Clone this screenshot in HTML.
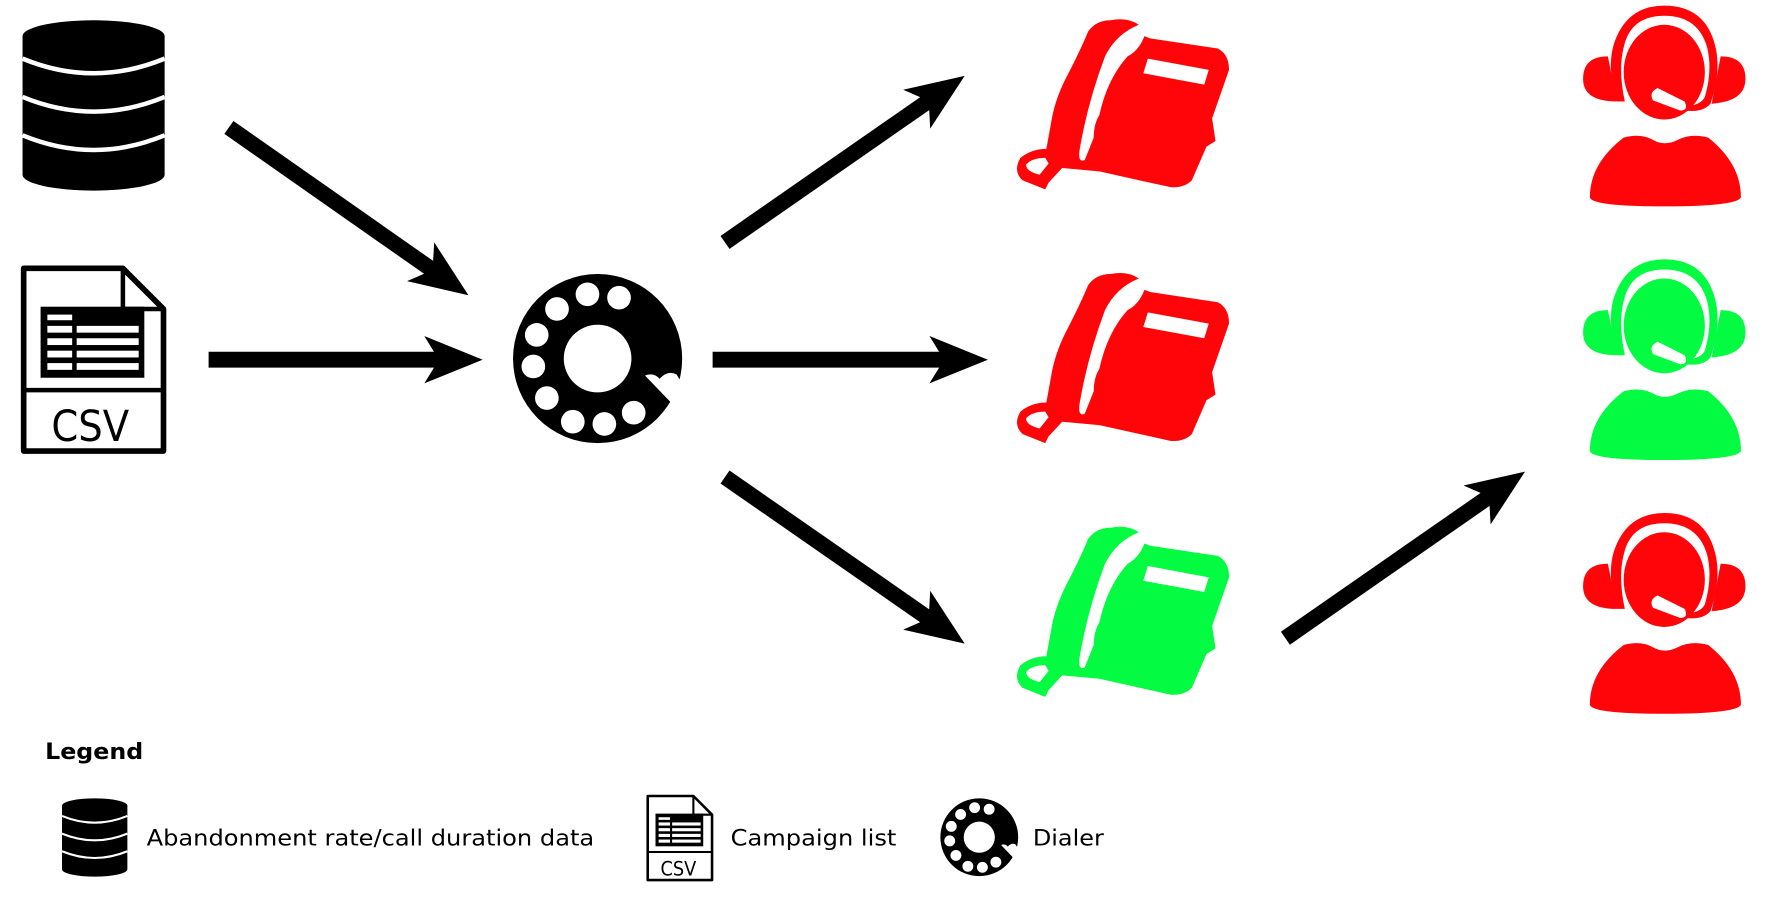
<!DOCTYPE html>
<html><head><meta charset="utf-8"><style>html,body{margin:0;padding:0;background:#fff}svg{display:block}</style></head><body>
<svg width="1768" height="897" viewBox="0 0 1568 795.5" preserveAspectRatio="none" xmlns="http://www.w3.org/2000/svg" font-family="'DejaVu Sans','Liberation Sans',sans-serif">
<defs>
<g id="db">
<rect x="20" y="32" width="126" height="123" fill="#000"/>
<ellipse cx="83" cy="155" rx="63" ry="14" fill="#000"/>
<ellipse cx="83" cy="32" rx="63" ry="14" fill="#000"/>
<path d="M20 52 Q83 78 146 52" stroke="#fff" stroke-width="4" fill="none"/>
<path d="M20 86 Q83 112 146 86" stroke="#fff" stroke-width="4" fill="none"/>
<path d="M20 120 Q83 146 146 120" stroke="#fff" stroke-width="4" fill="none"/>
</g>
<g id="csv">
<path d="M21 238 H109 L145 274 V400 H21 Z" fill="#fff" stroke="#000" stroke-width="5" stroke-linejoin="round"/>
<path d="M109 238 V274 H145" fill="none" stroke="#000" stroke-width="4"/>
<line x1="21" y1="346" x2="145" y2="346" stroke="#000" stroke-width="4"/>
<rect x="36" y="272" width="92" height="63" fill="#000"/>
<g fill="#fff">
<rect x="42" y="279" width="22" height="5"/>
<rect x="42" y="289" width="22" height="6"/><rect x="68" y="289" width="55" height="6"/>
<rect x="42" y="300" width="22" height="6"/><rect x="68" y="300" width="55" height="6"/>
<rect x="42" y="311" width="22" height="6"/><rect x="68" y="311" width="55" height="6"/>
<rect x="42" y="322" width="22" height="6"/><rect x="68" y="322" width="55" height="6"/>
</g>
<text x="80" y="391" font-size="38" text-anchor="middle" fill="#000" font-family="'DejaVu Sans Condensed','DejaVu Sans',sans-serif">CSV</text>
</g>
<g id="dial">
<circle cx="530" cy="318" r="75" fill="#000"/>
<circle cx="530" cy="318" r="30" fill="#fff"/>
<g fill="#fff">
<circle cx="521" cy="261" r="10.5"/><circle cx="549" cy="264" r="10.5"/><circle cx="494" cy="274" r="10.5"/>
<circle cx="476" cy="297" r="10.5"/><circle cx="473" cy="325" r="10.5"/><circle cx="485" cy="353" r="10.5"/>
<circle cx="508" cy="374" r="10.5"/><circle cx="536" cy="376" r="10.5"/><circle cx="562" cy="366" r="10.5"/>
</g>
<path d="M572 333 Q580 330 585 336 Q592 328 600 332 L606 342 L596 358 Z" fill="#fff"/>
</g>
<g id="phone">
<path d="M985 18 Q1000 15 1010 22 Q990 30 980 50 Q965 90 958 130 Q955 145 962 142 L970 122 Q970 110 975 102 Q982 70 1000 50 Q1010 45 1015 32 L1020 34 L1080 43 Q1090 48 1090 62 L1075 105 L1078 125 L1070 130 L1057 160 Q1050 167 1038 166 L975 152 L942 149 L930 162 L927 168 L907 160 Q898 152 905 140 Q915 132 928 132 L932 110 Q935 90 945 70 Q958 45 965 28 Q972 18 985 18 Z" />
<path d="M927 140 Q915 140 910 146 Q910 152 922 155 L930 145 Z" fill="#fff"/>
<path d="M1018 52 L1072 62 L1068 75 L1014 65 Z" fill="#fff"/>
</g>
<g id="person">
<ellipse cx="1476" cy="64" rx="36" ry="42"/>
<path d="M1441 88 Q1426 62 1430 40 Q1440 3 1476 3 Q1515 3 1524 40 Q1528 62 1520 90 L1514 92 Q1520 62 1516 42 Q1508 14 1476 13 Q1444 14 1438 42 Q1434 62 1443 88 Z" fill="#fff"/>
<path d="M1434 90 Q1425 62 1431 40 Q1442 5 1476 5 Q1512 5 1521 40 Q1527 62 1517 92 Q1510 100 1495 98 L1485 100 L1493 94 Q1508 94 1512 86 Q1519 62 1514 42 Q1506 14 1476 14 Q1446 14 1440 42 Q1435 62 1441 90 Z" />
<path d="M1426 50 Q1404 50 1404 70 Q1404 90 1434 90 Z" />
<path d="M1526 50 Q1548 50 1548 70 Q1548 90 1518 92 Z" />
<path d="M1470 78 Q1462 82 1466 89 L1490 98 Q1498 98 1494 90 Z" fill="#fff"/>
<path d="M1410 175 Q1410 145 1440 122 Q1455 118 1466 124 Q1476 130 1488 124 Q1500 118 1515 122 Q1544 145 1544 175 Q1540 183 1476 183 Q1412 183 1410 175 Z"/>
</g>
<marker id="ah" viewBox="0 0 10 10" refX="4" refY="5" markerWidth="3.7" markerHeight="3" orient="auto" markerUnits="strokeWidth" preserveAspectRatio="none"><path d="M0 0 L10 5 L0 10 L2.5 5 Z" fill="#000"/></marker>
</defs>
<use href="#db"/>
<use href="#csv"/>
<use href="#dial"/>
<g stroke="#000" stroke-width="14" fill="none" marker-end="url(#ah)">
<line x1="203" y1="113" x2="390" y2="244"/>
<line x1="185" y1="319" x2="397" y2="319"/>
<line x1="643" y1="215" x2="830" y2="85"/>
<line x1="632" y1="319" x2="845" y2="319"/>
<line x1="643" y1="423" x2="830" y2="553"/>
<line x1="1140" y1="566" x2="1327" y2="436"/>
</g>
<use href="#phone" fill="#ff0509"/>
<use href="#phone" fill="#ff0509" transform="translate(0,225)"/>
<use href="#phone" fill="#03fb41" transform="translate(0,450)"/>
<use href="#person" fill="#ff0509"/>
<use href="#person" fill="#03fb41" transform="translate(0,225)"/>
<use href="#person" fill="#ff0509" transform="translate(0,450)"/>
<text x="40" y="673" font-size="20" font-weight="bold" textLength="87" lengthAdjust="spacingAndGlyphs">Legend</text>
<use href="#db" transform="translate(55,708) scale(0.46) translate(-20,-18)"/>
<text x="130" y="750" font-size="20" textLength="397" lengthAdjust="spacingAndGlyphs">Abandonment rate/call duration data</text>
<use href="#csv" transform="translate(574,705) scale(0.46) translate(-20,-236)"/>
<text x="648" y="750" font-size="20" textLength="147" lengthAdjust="spacingAndGlyphs">Campaign list</text>
<use href="#dial" transform="translate(834,708) scale(0.46) translate(-455,-243)"/>
<text x="916" y="750" font-size="20" textLength="63" lengthAdjust="spacingAndGlyphs">Dialer</text>
</svg>
</body></html>
